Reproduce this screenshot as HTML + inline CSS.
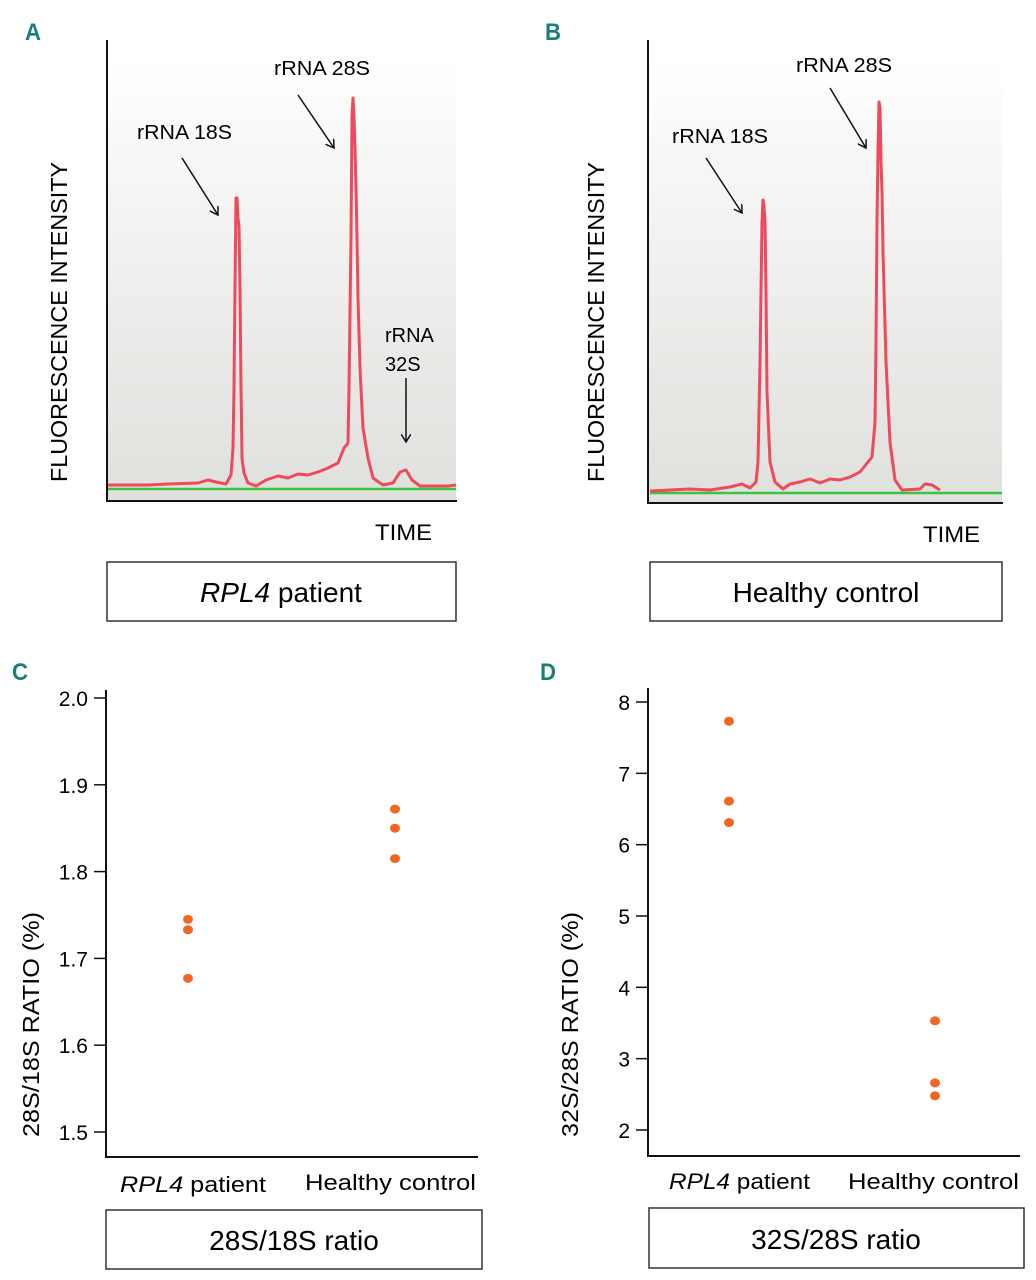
<!DOCTYPE html>
<html><head><meta charset="utf-8"><style>
html,body{margin:0;padding:0;background:#fff;}
svg{display:block;font-family:"Liberation Sans",sans-serif;}
</style></head><body>
<svg id="fig" width="1036" height="1280" viewBox="0 0 1036 1280">
<defs>
<linearGradient id="bg" x1="0" y1="0" x2="0" y2="1">
<stop offset="0" stop-color="#ffffff"/><stop offset="0.35" stop-color="#f3f3f1"/><stop offset="1" stop-color="#dfe1dd"/>
</linearGradient>
<marker id="ah" markerWidth="10" markerHeight="10" refX="8" refY="5" orient="auto" markerUnits="userSpaceOnUse"><path d="M0,0 L8,5 L0,10" fill="none" stroke="#111" stroke-width="1.5"/></marker>
</defs>

<!-- Panel A -->
<g>
<text x="25" y="40" font-size="24" font-weight="bold" fill="#1a7f7a" textLength="16" lengthAdjust="spacingAndGlyphs">A</text>
<rect x="108" y="60" width="348" height="440" fill="url(#bg)"/>
<g id="traceA"></g>
<line x1="107" y1="40" x2="107" y2="501" stroke="#111" stroke-width="2"/>
<line x1="106" y1="501" x2="457" y2="501" stroke="#111" stroke-width="2"/>
<text transform="translate(67,482) rotate(-90)" font-size="23" textLength="320" lengthAdjust="spacingAndGlyphs">FLUORESCENCE INTENSITY</text>
<text x="375" y="540" font-size="22" textLength="57" lengthAdjust="spacingAndGlyphs">TIME</text>
<text x="137" y="139" font-size="20" textLength="95" lengthAdjust="spacingAndGlyphs">rRNA 18S</text>
<line x1="182" y1="158" x2="218" y2="215" stroke="#111" stroke-width="1.5" marker-end="url(#ah)"/>
<text x="274" y="75" font-size="20" textLength="96" lengthAdjust="spacingAndGlyphs">rRNA 28S</text>
<line x1="298" y1="95" x2="334" y2="148" stroke="#111" stroke-width="1.5" marker-end="url(#ah)"/>
<text x="385" y="342" font-size="20">rRNA</text>
<text x="385" y="371" font-size="20">32S</text>
<line x1="406" y1="378" x2="406" y2="442" stroke="#111" stroke-width="1.5" marker-end="url(#ah)"/>
<rect x="107" y="562" width="349" height="59" fill="#fff" stroke="#333" stroke-width="1.5"/>
<text x="281" y="602" font-size="28" text-anchor="middle"><tspan font-style="italic">RPL4</tspan> patient</text>
</g>

<!-- Panel B -->
<g>
<text x="545" y="40" font-size="24" font-weight="bold" fill="#1a7f7a" textLength="16" lengthAdjust="spacingAndGlyphs">B</text>
<rect x="649" y="60" width="353" height="443" fill="url(#bg)"/>
<g id="traceB"></g>
<line x1="648" y1="40" x2="648" y2="503" stroke="#111" stroke-width="2"/>
<line x1="647" y1="503" x2="1003" y2="503" stroke="#111" stroke-width="2"/>
<text transform="translate(604,482) rotate(-90)" font-size="23" textLength="320" lengthAdjust="spacingAndGlyphs">FLUORESCENCE INTENSITY</text>
<text x="923" y="542" font-size="22" textLength="57" lengthAdjust="spacingAndGlyphs">TIME</text>
<text x="672" y="143" font-size="20" textLength="96" lengthAdjust="spacingAndGlyphs">rRNA 18S</text>
<line x1="706" y1="158" x2="742" y2="213" stroke="#111" stroke-width="1.5" marker-end="url(#ah)"/>
<text x="796" y="72" font-size="20" textLength="96" lengthAdjust="spacingAndGlyphs">rRNA 28S</text>
<line x1="830" y1="88" x2="866" y2="148" stroke="#111" stroke-width="1.5" marker-end="url(#ah)"/>
<rect x="650" y="562" width="352" height="59" fill="#fff" stroke="#333" stroke-width="1.5"/>
<text x="826" y="602" font-size="28" text-anchor="middle">Healthy control</text>
</g>

<!-- Panel C -->
<g>
<text x="12" y="680" font-size="24" font-weight="bold" fill="#1a7f7a" textLength="16" lengthAdjust="spacingAndGlyphs">C</text>
<g id="axC"></g>
<line x1="106" y1="690" x2="106" y2="1158" stroke="#111" stroke-width="2"/>
<line x1="105" y1="1157" x2="478" y2="1157" stroke="#111" stroke-width="2"/>
<text transform="translate(39,1137) rotate(-90)" font-size="23" textLength="225" lengthAdjust="spacingAndGlyphs">28S/18S RATIO (%)</text>
<g id="ptsC"></g>
<text x="120" y="1192" font-size="22" textLength="146" lengthAdjust="spacingAndGlyphs"><tspan font-style="italic">RPL4</tspan>  patient</text>
<text x="305" y="1190" font-size="22" textLength="171" lengthAdjust="spacingAndGlyphs">Healthy control</text>
<rect x="106" y="1210" width="376" height="59" fill="#fff" stroke="#333" stroke-width="1.5"/>
<text x="294" y="1250" font-size="28" text-anchor="middle">28S/18S ratio</text>
</g>

<!-- Panel D -->
<g>
<text x="540" y="680" font-size="24" font-weight="bold" fill="#1a7f7a" textLength="16" lengthAdjust="spacingAndGlyphs">D</text>
<g id="axD"></g>
<line x1="648" y1="688" x2="648" y2="1157" stroke="#111" stroke-width="2"/>
<line x1="647" y1="1156" x2="1020" y2="1156" stroke="#111" stroke-width="2"/>
<text transform="translate(578,1137) rotate(-90)" font-size="23" textLength="225" lengthAdjust="spacingAndGlyphs">32S/28S RATIO (%)</text>
<g id="ptsD"></g>
<text x="669" y="1189" font-size="22" textLength="141" lengthAdjust="spacingAndGlyphs"><tspan font-style="italic">RPL4</tspan> patient</text>
<text x="848" y="1189" font-size="22" textLength="171" lengthAdjust="spacingAndGlyphs">Healthy control</text>
<rect x="649" y="1208" width="375" height="60" fill="#fff" stroke="#333" stroke-width="1.5"/>
<text x="836" y="1249" font-size="28" text-anchor="middle">32S/28S ratio</text>
</g>
</svg>
<script>
// Chromatogram A (time units, intensity units)
const timeA=[0,40,60,90,100,108,118,123,125,126,127,128,129,130,131,132,133,134,136,140,148,158,170,180,190,200,210,220,230,236,240,241,243,244,245,246,247,248,249,250,252,255,260,265,275,285,292,298,304,312,340,348];
const intensityA=[3,3,4,5,8,6,4,13,40,100,200,290,290,270,262,200,100,30,15,5,2,8,12,10,14,13,16,20,25,40,45,100,250,372,390,372,340,300,250,190,120,60,30,10,3,5,16,18,8,2,2,3];
// Chromatogram B
const timeB=[0,20,40,60,80,92,100,106,108,109,110,111,112,113,114,115,116,117,120,125,133,140,150,160,170,180,190,200,210,218,222,225,226,227,228,229,230,231,232,233,236,240,245,252,270,275,282,290];
const intensityB=[1,2,3,2,5,8,4,10,30,80,130,200,270,292,285,270,200,100,30,10,3,8,10,13,9,13,12,15,20,30,35,70,150,270,340,390,385,330,300,240,130,50,12,2,3,8,7,2];
// Scatter C
const catsC=["RPL4 patient","Healthy control"];
const patientC=[1.745,1.733,1.677];
const controlC=[1.872,1.850,1.815];
const ticksC=["1.5","1.6","1.7","1.8","1.9","2.0"];
// Scatter D
const catsD=["RPL4 patient","Healthy control"];
const patientD=[7.73,6.61,6.31];
const controlD=[3.53,2.66,2.48];
const ticksD=["2","3","4","5","6","7","8"];

const NS="http://www.w3.org/2000/svg";
function mk(tag,attrs,parent){const e=document.createElementNS(NS,tag);for(const k in attrs)e.setAttribute(k,attrs[k]);parent.appendChild(e);return e;}

function drawTrace(gid,times,vals,x0,base,xEnd,greenStart){
  const g=document.getElementById(gid);
  const xs=t=>x0+t, ys=v=>base-v;
  const gl=mk('line',{x1:greenStart,y1:base+1,x2:xEnd,y2:base+1,stroke:'#3cc43c','stroke-width':2.5},g);
  
  
  let pts=times.map((t,i)=>xs(t)+','+ys(vals[i])).join(' ');
  const pl=mk('polyline',{points:pts,fill:'none',stroke:'#ee4a5c','stroke-width':3,'stroke-linejoin':'round'},g);
  
  
}
drawTrace('traceA',timeA,intensityA,108,488,456,108);
drawTrace('traceB',timeB,intensityB,650,492,1002,650);

function drawScatter(axId,ptsId,ticks,axisX,yFn,cats,catX,series){
  const ax=document.getElementById(axId);
  ticks.forEach(t=>{
    const y=yFn(parseFloat(t));
    const tl=mk('line',{x1:axisX-12,y1:y,x2:axisX,y2:y,stroke:'#111','stroke-width':1.5},ax);
    
    
    const tx=mk('text',{x:axisX-18,y:y+8,'font-size':21,'text-anchor':'end'},ax);
    tx.textContent=t;
    
    
  });
  const pg=document.getElementById(ptsId);
  series.forEach((s,ci)=>{
    s.forEach(v=>{
      const c=mk('ellipse',{cx:catX(ci),cy:yFn(v),rx:5,ry:4.5,fill:'#f26522'},pg);
      
      
    });
  });
}
const yC=v=>1132-(v-1.5)*(1132-698)/0.5;
const xC=i=>[188,395][i];
drawScatter('axC','ptsC',ticksC,106,yC,catsC,xC,[patientC,controlC]);
const yD=v=>1130-(v-2)*(1130-702)/6;
const xD=i=>[729,935][i];
drawScatter('axD','ptsD',ticksD,648,yD,catsD,xD,[patientD,controlD]);
</script>
</body></html>
